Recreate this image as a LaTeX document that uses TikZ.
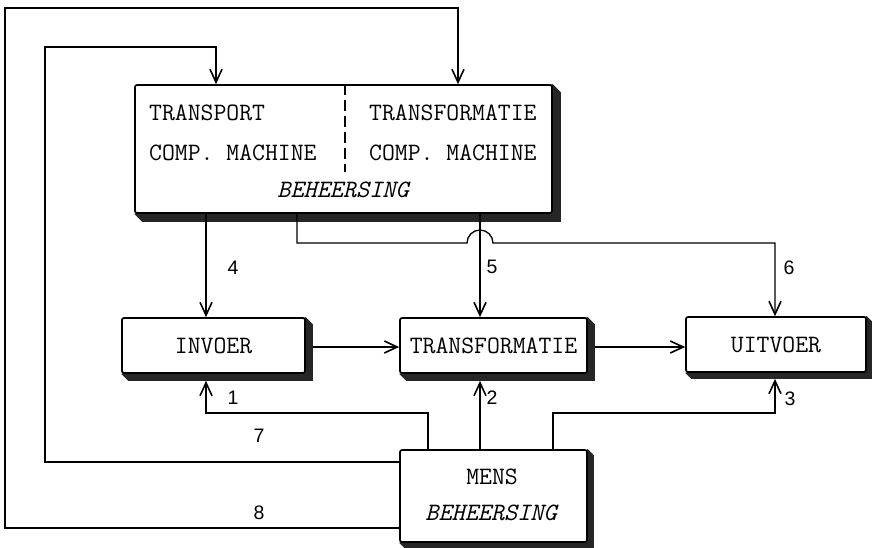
\documentclass[tikz,border=0pt]{standalone}
\usepackage{fontspec}
\newfontfamily\numfont{Liberation Sans}
\usetikzlibrary{arrows.meta,calc,backgrounds}
\begin{document}
\begin{tikzpicture}[x=1pt,y=-1pt,
  box/.style={draw=black, line width=1.7pt, rounded corners=2pt, fill=white, inner sep=0pt,
    font=\fontsize{25}{29}\selectfont\ttfamily},
  conn/.style={line width=1.3pt},
  arr/.style={conn, -{Straight Barb[length=13pt,width=12pt,line width=1.6pt]}},
  lbl/.style={font=\fontsize{19.5}{22}\selectfont\numfont, inner sep=0pt},
  tt/.style={font=\fontsize{25}{29}\selectfont\ttfamily, inner sep=0pt},
  itt/.style={font=\fontsize{25}{29}\selectfont\ttfamily\itshape, inner sep=0pt},
  shad/.style={fill=black!85},
  divider/.style={line width=1.3pt, dash pattern=on 11pt off 5pt}]

\useasboundingbox (0,0) rectangle (872,547);

% boxes
\node[box, minimum width=417pt, minimum height=128pt] (ctrl) at (343.5,149) {};
\node[box, minimum width=183pt, minimum height=55pt] (invoer) at (213.5,345.5) {INVOER};
\node[box, minimum width=187pt, minimum height=55pt] (transf) at (493.5,345.5) {TRANSFORMATIE};
\node[box, minimum width=180pt, minimum height=55pt] (uitvoer) at (776,344.5) {UITVOER};
\node[box, minimum width=187pt, minimum height=92pt] (mens) at (493.5,496) {};

% shadows
\begin{scope}[on background layer]
\foreach \nn/\ss in {ctrl/8, invoer/7, transf/7, uitvoer/6, mens/6} {
  \fill[shad] (\nn.north east) -- ($(\nn.north east)+(\ss,\ss)$) -- ($(\nn.south east)+(\ss,\ss)$)
    -- ($(\nn.south west)+(\ss,\ss)$) -- (\nn.south west) -- cycle;
}
\end{scope}

% texts in control box
\node[tt, anchor=west] (t1) at (149,113) {TRANSPORT};
\node[tt, anchor=west] (t2) at (149,153) {COMP. MACHINE};
\node[tt, anchor=west] (t3) at (369,113) {TRANSFORMATIE};
\node[tt, anchor=west] (t4) at (369,153) {COMP. MACHINE};
\node[itt] (t5) at (343,190) {BEHEERSING};
\coordinate (dv) at (345,172);
\draw[divider] (ctrl.north -| dv) -- (dv);

% texts in mens box
\node[tt] (m1t) at (492,477) {MENS};
\node[itt] (m2t) at (491,513) {BEHEERSING};

% helper coordinates
\coordinate (x4) at (206,0);
\coordinate (x5) at (480,0);
\coordinate (a6) at (297,243);
\coordinate (j6) at (467,243);
\coordinate (b6) at (775,243);
\coordinate (m1) at (428,413);
\coordinate (k1) at (206,413);
\coordinate (m3) at (553,413);
\coordinate (k3) at (775,413);
\coordinate (a7) at (45,462);
\coordinate (b7) at (45,47);
\coordinate (c7) at (216,47);
\coordinate (a8) at (5,528);
\coordinate (b8) at (5,8);
\coordinate (c8) at (458,8);

% connectors from control box
\draw[arr] (ctrl.south -| x4) -- (invoer.north -| x4);
\draw[arr] (ctrl.south -| x5) -- (transf.north -| x5);
\draw[arr] (ctrl.south -| a6) -- (a6) -- (j6) arc[start angle=180, end angle=0, radius=13pt] -- (b6) -- (uitvoer.north -| b6);

% main flow
\draw[arr] ($(invoer.east)+(7,1.5)$) -- (transf.west |- {$(invoer.east)+(7,1.5)$});
\draw[arr] ($(transf.east)+(7,1.5)$) -- (uitvoer.west |- {$(transf.east)+(7,1.5)$});

% connectors from mens
\draw[arr] (mens.north -| m1) -- (m1) -- (k1) -- ($(invoer.south -| k1)+(0,7)$);
\draw[arr] (mens.north -| x5) -- ($(transf.south -| x5)+(0,7)$);
\draw[arr] (mens.north -| m3) -- (m3) -- (k3) -- ($(uitvoer.south -| k3)+(0,6)$);
\draw[arr] (mens.west |- a7) -- (a7) -- (b7) -- (c7) -- (ctrl.north -| c7);
\draw[arr] (mens.west |- a8) -- (a8) -- (b8) -- (c8) -- (ctrl.north -| c8);

% labels
\node[lbl] (l4) at (233,268) {4};
\node[lbl] (l5) at (492,267) {5};
\node[lbl] (l6) at (789,268) {6};
\node[lbl] (l1) at (233,398) {1};
\node[lbl] (l2) at (492,398) {2};
\node[lbl] (l3) at (790,399) {3};
\node[lbl] (l7) at (259,436) {7};
\node[lbl] (l8) at (259,513) {8};
\end{tikzpicture}
\end{document}
